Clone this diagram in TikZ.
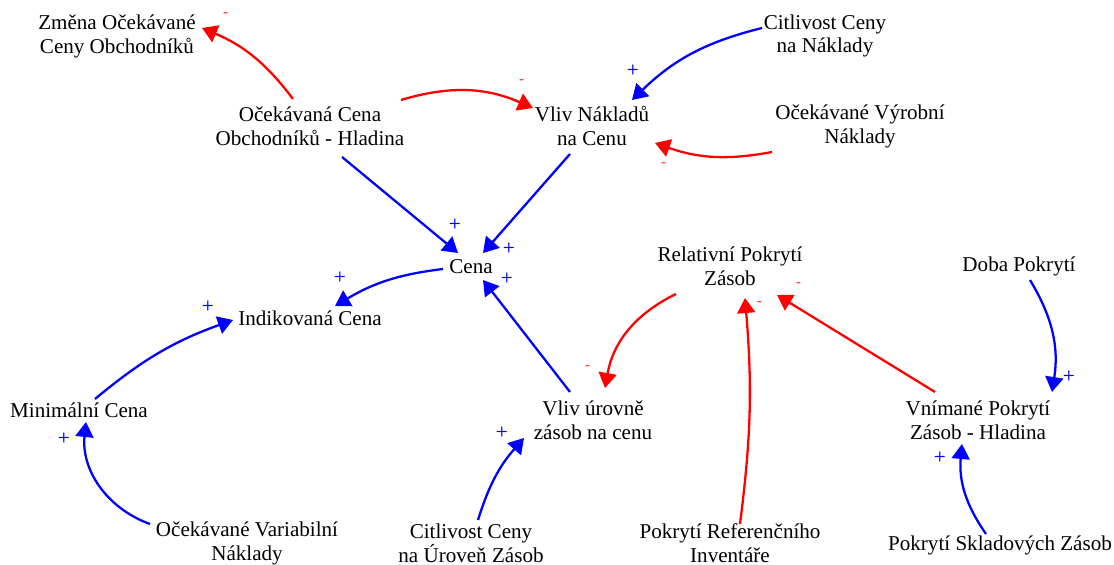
\documentclass[tikz,border=0pt]{standalone}
\usepackage{fontspec}
\setmainfont{Liberation Serif}
\usepackage{tikz}
\usetikzlibrary{arrows.meta}

\begin{document}
\begin{tikzpicture}[
	varnode/.style={align=center, inner sep=0pt, font=\fontsize{12}{13.6}\selectfont},
	posarrow/.style={blue, line width=1.3pt, -{Triangle[length=0.3cm,width=0.36cm]}},
	negarrow/.style={red, line width=1.3pt, -{Triangle[length=0.3cm,width=0.36cm]}},
	possign/.style={text=blue, font=\sffamily\bfseries\footnotesize, inner sep=0pt, pos=1},
	negsign/.style={text=red, font=\sffamily\bfseries\footnotesize, inner sep=0pt, pos=1},
	]
	\useasboundingbox (0,0) rectangle (22.28,-11.3);
	%Nodes
	\node[varnode]	(zmena)		at (2.34,-0.72)		{Změna Očekávané\\Ceny Obchodníků};
	\node[varnode]	(ocekcena)	at (6.2,-2.52)		{Očekávaná Cena\\Obchodníků - Hladina};
	\node[varnode]	(vlivnakl)	at (11.84,-2.52)	{Vliv Nákladů\\na Cenu};
	\node[varnode]	(citnakl)	at (16.5,-0.72)		{Citlivost Ceny\\na Náklady};
	\node[varnode]	(vyrobni)	at (17.2,-2.52)		{Očekávané Výrobní\\Náklady};
	\node[varnode]	(cena)		at (9.42,-5.34)		{Cena};
	\node[varnode]	(indik)		at (6.2,-6.36)		{Indikovaná Cena};
	\node[varnode]	(minim)		at (1.58,-8.2)		{Minimální Cena};
	\node[varnode]	(vlivzas)	at (11.86,-8.4)		{Vliv úrovně\\zásob na cenu};
	\node[varnode]	(relativ)	at (14.6,-5.32)		{Relativní Pokrytí\\Zásob};
	\node[varnode]	(doba)		at (20.38,-5.32)	{Doba Pokrytí};
	\node[varnode]	(vnimane)	at (19.56,-8.4)		{Vnímané Pokrytí\\Zásob - Hladina};
	\node[varnode]	(variab)	at (4.94,-10.86)	{Očekávané Variabilní\\Náklady};
	\node[varnode]	(citzas)	at (9.42,-10.86)	{Citlivost Ceny\\na Úroveň Zásob};
	\node[varnode]	(refinv)	at (14.6,-10.86)	{Pokrytí Referenčního\\Inventáře};
	\node[varnode]	(sklad)		at (20.0,-10.9)		{Pokrytí Skladových Zásob};

	%Links
	\draw[negarrow] ([shift={(-0.34,0.54)}]ocekcena.center) to[bend right=15] node[negsign, xshift=0.48cm, yshift=0.26cm] {-} ([shift={(1.70,0.16)}]zmena.center);
	\draw[negarrow] ([shift={(1.82,0.52)}]ocekcena.center) to[bend left=20] node[negsign, xshift=-0.22cm, yshift=0.52cm] {-} ([shift={(-1.18,0.36)}]vlivnakl.center);
	\draw[posarrow] ([shift={(-1.26,0.16)}]citnakl.center) to[bend right=15] node[possign, xshift=0.02cm, yshift=0.6cm] {+} ([shift={(0.8,0.52)}]vlivnakl.center);
	\draw[negarrow] ([shift={(-1.76,-0.52)}]vyrobni.center) to[bend left=15] node[negsign, xshift=0.18cm, yshift=-0.44cm] {-} ([shift={(1.26,-0.34)}]vlivnakl.center);
	\draw[posarrow] ([shift={(0.64,-0.62)}]ocekcena.center) -- node[possign, xshift=-0.06cm, yshift=0.58cm] {+} ([shift={(-0.26,0.28)}]cena.center);
	\draw[posarrow] ([shift={(-0.44,-0.56)}]vlivnakl.center) -- node[possign, xshift=0.52cm, yshift=0.1cm] {+} ([shift={(0.24,0.28)}]cena.center);
	\draw[posarrow] ([shift={(-0.56,-0.04)}]cena.center) to[bend right=12] node[possign, xshift=0.1cm, yshift=0.58cm] {+} ([shift={(0.5,0.24)}]indik.center);
	\draw[posarrow] ([shift={(-0.46,0.56)}]vlivzas.center) -- node[possign, xshift=0.48cm, yshift=0.04cm] {+} ([shift={(0.24,-0.26)}]cena.center);
	\draw[posarrow] ([shift={(0.32,0.22)}]minim.center) to[bend left=10] node[possign, xshift=-0.5cm, yshift=0.28cm] {+} ([shift={(-1.54,-0.04)}]indik.center);
	\draw[posarrow] ([shift={(-1.94,0.38)}]variab.center) to[bend left=38] node[possign, xshift=-0.44cm, yshift=-0.32cm] {+} ([shift={(0.14,-0.24)}]minim.center);
	\draw[posarrow] ([shift={(0.14,0.46)}]citzas.center) to[bend left=12] node[possign, xshift=-0.44cm, yshift=0.12cm] {+} ([shift={(-1.38,-0.36)}]vlivzas.center);
	\draw[negarrow] ([shift={(-1.08,-0.56)}]relativ.center) to[bend right=27] node[negsign, xshift=-0.34cm, yshift=0.4cm] {-} ([shift={(0.24,0.64)}]vlivzas.center);
	\draw[negarrow] ([shift={(0.2,0.38)}]refinv.center) to[bend right=6] node[negsign, xshift=0.3cm, yshift=-0.12cm] {-} ([shift={(0.3,-0.64)}]relativ.center);
	\draw[negarrow] ([shift={(-0.86,0.56)}]vnimane.center) -- node[negsign, xshift=0.44cm, yshift=0.2cm] {-} ([shift={(0.94,-0.58)}]relativ.center);
	\draw[posarrow] ([shift={(0.22,-0.28)}]doba.center) to[bend left=20] node[possign, xshift=0.34cm, yshift=0.32cm] {+} ([shift={(1.48,0.56)}]vnimane.center);
	\draw[posarrow] ([shift={(-0.28,0.22)}]sklad.center) to[bend left=20] node[possign, xshift=-0.44cm, yshift=-0.26cm] {+} ([shift={(-0.32,-0.48)}]vnimane.center);
\end{tikzpicture}
\end{document}
